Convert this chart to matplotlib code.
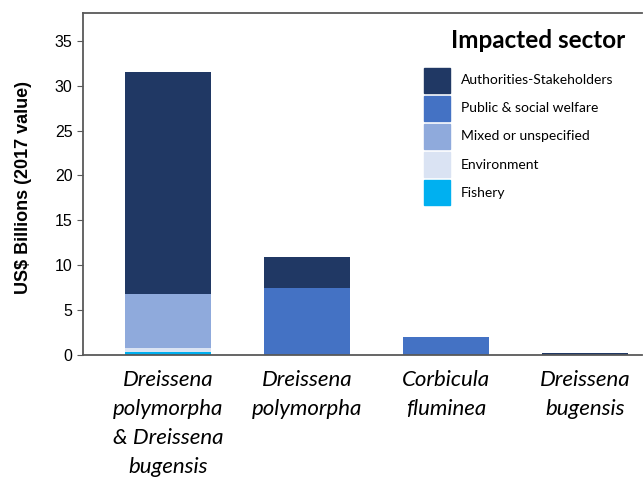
import numpy as np
import matplotlib.pyplot as plt
from matplotlib.patches import Rectangle

# data
species = ['Dreissena\npolymorpha\n& Dreissena\nbugensis', 'Dreissena\npolymorpha',
           'Corbicula\nfluminea', 'Dreissena\nbugensis']
sectors = ['Fishery', 'Environment', 'Mixed or unspecified',
           'Public & social welfare', 'Authorities-Stakeholders']
fishery = [0.3, 0.0, 0.0, 0.0]
environment = [0.45, 0.0, 0.0, 0.0]
mixed = [6.0, 0.0, 0.0, 0.0]
public = [0.0, 7.5, 2.0, 0.0]
authorities = [24.75, 3.45, 0.0, 0.2]
colors = ['#00b0f0', '#dae3f3', '#8faadc', '#4472c4', '#203864']

fig = plt.figure(figsize=(6.43, 4.79), dpi=100)
ax = fig.add_axes([0.129, 0.259, 0.869, 0.714])

x = np.arange(len(species))
bottom = np.zeros(len(species))
for vals, lab, c in zip([fishery, environment, mixed, public, authorities], sectors, colors):
    ax.bar(x, vals, width=0.62, bottom=bottom, color=c, label=lab)
    bottom += np.array(vals)

ax.set_xlim(-0.612, 3.41)
ax.set_ylim(0, 38.1)
ax.set_yticks(range(0, 36, 5))
ax.tick_params(axis='y', labelsize=11.5, direction='out', length=4, color='#595959')
for t in ax.get_yticklabels():
    t.set_family('Liberation Sans')
ax.set_xticks([])
ax.set_ylabel('US$ Billions (2017 value)', fontsize=13, fontweight='bold',
              family='Liberation Sans')
ax.yaxis.set_label_coords(-0.092, 0.49)

for s in ['left', 'top', 'bottom']:
    ax.spines[s].set_color('#595959')
    ax.spines[s].set_linewidth(1.3)
ax.spines['right'].set_visible(False)

for i, name in enumerate(species):
    ax.text(i, -1.7, name, ha='center', va='top', fontsize=16, style='italic',
            family='Lato', linespacing=1.55)

# legend drawn by hand, top entry first
ax.text(0.815, 0.918, 'Impacted sector', transform=ax.transAxes, ha='center', va='center',
        fontsize=17.5, fontweight='bold', family='Lato')
for k, (lab, c) in enumerate(zip(sectors[::-1], colors[::-1])):
    y0 = 0.839 - k * 0.0819
    ax.add_patch(Rectangle((0.610, y0 - 0.0731), 0.0465, 0.0731, transform=ax.transAxes,
                           color=c, clip_on=False))
    ax.text(0.676, y0 - 0.0365, lab, transform=ax.transAxes, ha='left', va='center',
            fontsize=10, family='Lato')

fig.savefig('out.png', dpi=100)
